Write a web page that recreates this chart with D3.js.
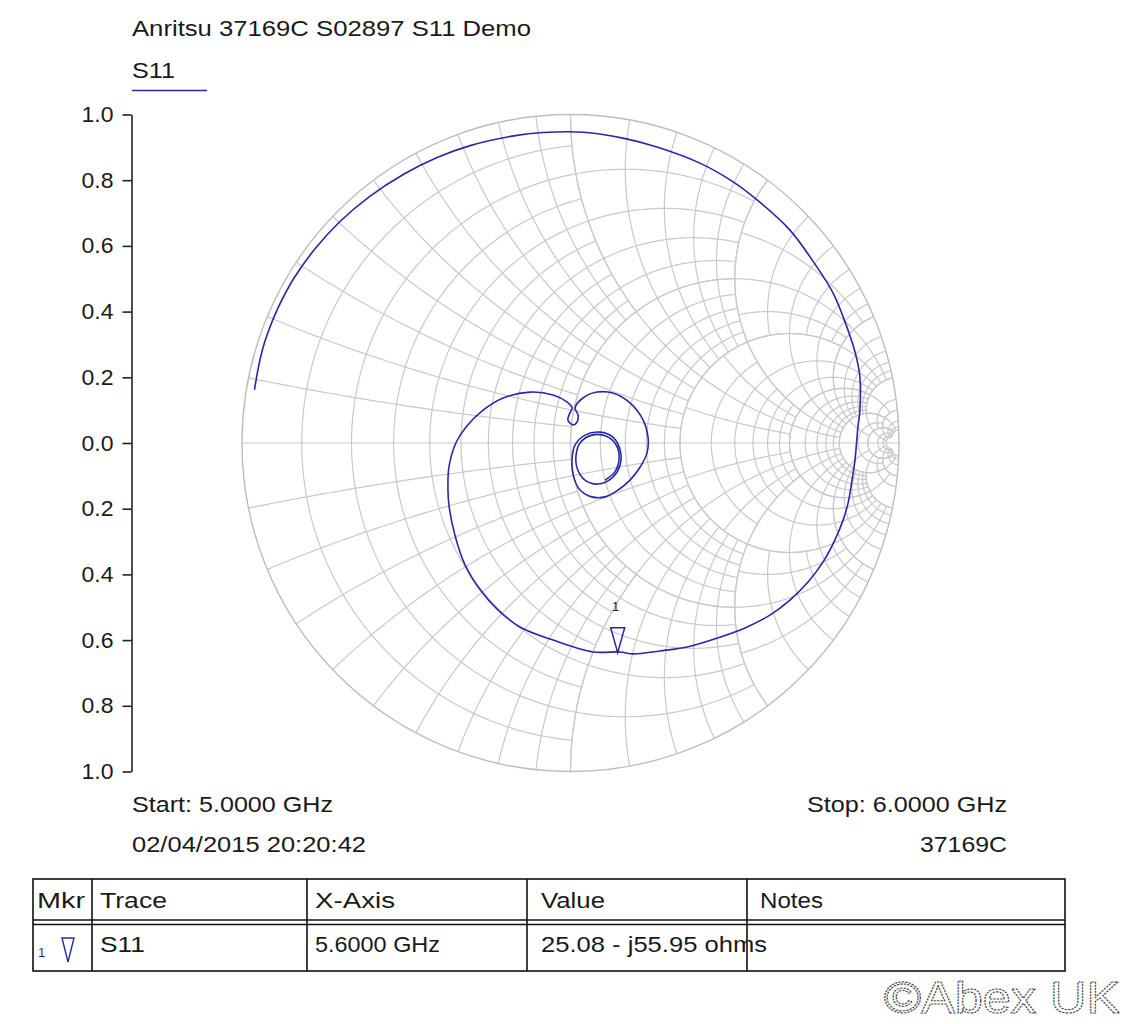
<!DOCTYPE html>
<html><head><meta charset="utf-8">
<script src="https://cdn.jsdelivr.net/npm/d3@7"></script>
<style>
body{margin:0;background:#fff}
svg{display:block}
text{font-family:"Liberation Sans",Arial,sans-serif;fill:#1a1a1a}
</style>
</head><body>
<svg id="chart" width="1129" height="1024"></svg>
<script>
// ---------------- data ----------------
const titleText = "Anritsu 37169C S02897 S11 Demo";
const seriesName = "S11";
const yTickValues = [1.0, 0.8, 0.6, 0.4, 0.2, 0.0, -0.2, -0.4, -0.6, -0.8, -1.0];
const startLabel = "Start: 5.0000 GHz";
const stopLabel = "Stop: 6.0000 GHz";
const dateLabel = "02/04/2015 20:20:42";
const modelLabel = "37169C";
const z0 = 50;
const markerLabel = "1";
const markerImpedance = [25.08, -55.95];   // ohms
const tableHeaders = ["Mkr", "Trace", "X-Axis", "Value", "Notes"];
const tableRow = ["", "S11", "5.6000 GHz", "25.08 - j55.95 ohms", ""];
const watermark = "\u00A9Abex UK";

// reflection coefficient (5.0 GHz -> 6.0 GHz)
const gammaRe = [-0.962,-0.950,-0.938,-0.922,-0.890,-0.841,-0.777,-0.704,-0.612,-0.508,-0.406,-0.303,-0.173,-0.083,0.038,0.160,0.263,0.394,0.495,0.568,0.668,0.750,0.799,0.830,0.860,0.872,0.881,0.881,0.875,0.866,0.857,0.845,0.830,0.805,0.769,0.723,0.668,0.607,0.531,0.455,0.355,0.272,0.190,0.151,0.068,-0.053,-0.154,-0.221,-0.275,-0.321,-0.352,-0.370,-0.373,-0.370,-0.349,-0.318,-0.266,-0.205,-0.123,-0.053,-0.011,0.005,-0.002,-0.008,0.008,0.020,0.023,0.014,0.038,0.081,0.129,0.181,0.221,0.236,0.233,0.212,0.181,0.145,0.105,0.065,0.029,0.008,0.005,0.014,0.044,0.090,0.129,0.151,0.151,0.126,0.084,0.044,0.020,0.017,0.029,0.065,0.108,0.139,0.148,0.135,0.105];
const gammaIm = [0.162,0.231,0.283,0.334,0.412,0.503,0.592,0.672,0.750,0.818,0.869,0.906,0.935,0.945,0.946,0.928,0.901,0.852,0.795,0.740,0.648,0.536,0.457,0.384,0.298,0.253,0.201,0.100,0.049,-0.052,-0.113,-0.183,-0.234,-0.295,-0.362,-0.423,-0.478,-0.524,-0.563,-0.591,-0.621,-0.633,-0.642,-0.636,-0.636,-0.600,-0.560,-0.508,-0.447,-0.371,-0.280,-0.189,-0.143,-0.073,0.000,0.049,0.100,0.137,0.155,0.146,0.125,0.107,0.091,0.070,0.055,0.064,0.085,0.107,0.137,0.155,0.152,0.122,0.070,0.018,-0.030,-0.073,-0.113,-0.143,-0.164,-0.164,-0.143,-0.097,-0.046,-0.006,0.024,0.033,0.018,-0.021,-0.067,-0.107,-0.125,-0.113,-0.076,-0.037,0.000,0.024,0.021,-0.006,-0.046,-0.088,-0.113];

// Smith grid zones: [rFrom, rTo, rStep, xFrom, xTo, xStep]
const gridZones = [
  [0, 1, 0.1, 0, 1, 0.1],
  [0, 1, 0.2, 1, 2, 0.2],
  [1, 2, 0.2, 0, 2, 0.2],
  [0, 2, 0.5, 2, 5, 0.5],
  [2, 5, 0.5, 0, 2, 0.5],
  [2, 5, 1, 2, 5, 1],
  [0, 5, 1, 5, 10, 1],
  [5, 10, 1, 0, 10, 1],
  [0, 10, 5, 10, 20, 5],
  [10, 20, 5, 0, 20, 5],
  [0, 20, 10, 20, 50, 10],
  [20, 50, 10, 0, 50, 10]
];

// ---------------- drawing ----------------
const svg = d3.select("#chart");
const cx = 570.5, cy = 443, R = 328.5;
const xs = d3.scaleLinear().domain([-1, 1]).range([cx - R, cx + R]);
const ys = d3.scaleLinear().domain([-1, 1]).range([cy + R, cy - R]);
const line = d3.line().x(d => xs(d[0])).y(d => ys(d[1]));
const gridColor = "#c9c9c9";
const traceColor = "#2727a8";

function gam(r, x) {
  const d = (r + 1) * (r + 1) + x * x;
  return [(r * r + x * x - 1) / d, 2 * x / d];
}
function sampleAtan(a, b, n) {
  const t0 = Math.atan(a), t1 = Math.atan(b), out = [];
  for (let i = 0; i <= n; i++) out.push(Math.tan(t0 + (t1 - t0) * i / n));
  return out;
}
const grid = svg.append("g").attr("fill", "none").attr("stroke", gridColor).attr("stroke-width", 1.2);
function rArc(r, x0, x1) {
  [1, -1].forEach(s => {
    const pts = sampleAtan(x0, x1, 60).map(x => gam(r, s * x));
    grid.append("path").attr("d", line(pts));
  });
}
function xArc(x, r0, r1) {
  [1, -1].forEach(s => {
    const pts = sampleAtan(r0, r1, 60).map(r => gam(r, s * x));
    grid.append("path").attr("d", line(pts));
  });
}
const eps = 1e-6;
gridZones.forEach(([r0, r1, dr, x0, x1, dx]) => {
  for (let r = (r0 > 0 ? r0 : dr); r <= r1 + eps; r += dr) rArc(+r.toFixed(4), x0, x1);
  for (let x = (x0 > 0 ? x0 : dx); x <= x1 + eps; x += dx) xArc(+x.toFixed(4), r0, r1);
});
// real axis and outer circle
grid.append("line").attr("x1", xs(-1)).attr("x2", xs(1)).attr("y1", ys(0)).attr("y2", ys(0));
grid.append("circle").attr("cx", xs(0)).attr("cy", ys(0)).attr("r", xs(1) - xs(0)).attr("stroke", "#bdbdbd").attr("stroke-width", 1.4);

// trace
const trace = gammaRe.map((g, i) => [g, gammaIm[i]]);
svg.append("path").attr("d", d3.line().x(d => xs(d[0])).y(d => ys(d[1])).curve(d3.curveCatmullRom)(trace))
  .attr("fill", "none").attr("stroke", traceColor).attr("stroke-width", 1.6);

// marker
const zm = [markerImpedance[0] / z0, markerImpedance[1] / z0];
const gm = gam(zm[0], zm[1]);
const mx = xs(gm[0]), my = ys(gm[1]);
svg.append("path").attr("d", `M${mx},${my} L${mx - 7},${my - 25} L${mx + 7},${my - 25} Z`)
  .attr("fill", "none").attr("stroke", traceColor).attr("stroke-width", 1.5);
svg.append("text").attr("x", mx - 2).attr("y", my - 42).attr("text-anchor", "middle")
  .attr("font-size", 13).text(markerLabel);

// y axis
const yAxis = d3.axisLeft(ys).tickValues(yTickValues).tickFormat(d => Math.abs(d).toFixed(1))
  .tickSize(9).tickSizeOuter(0).tickPadding(9);
const ag = svg.append("g").attr("transform", "translate(131.5,0)").call(yAxis);
ag.select(".domain").attr("stroke", "#222").attr("stroke-width", 1.6);
ag.selectAll(".tick line").attr("stroke", "#222").attr("stroke-width", 1.6);
ag.selectAll(".tick text").attr("font-size", 22).attr("font-family", '"Liberation Sans",Arial,sans-serif')
  .attr("fill", "#1a1a1a").attr("textLength", 32).attr("lengthAdjust", "spacingAndGlyphs");

// titles
function txt(s, x, y, w, anchor) {
  const t = svg.append("text").attr("x", x).attr("y", y).attr("font-size", 22).text(s);
  if (anchor) t.attr("text-anchor", anchor);
  if (w) t.attr("textLength", w).attr("lengthAdjust", "spacingAndGlyphs");
  return t;
}
txt(titleText, 132, 36, 399);
txt(seriesName, 132, 78, 43);
svg.append("line").attr("x1", 132).attr("x2", 207).attr("y1", 90.5).attr("y2", 90.5)
  .attr("stroke", traceColor).attr("stroke-width", 1.6);
txt(startLabel, 132, 812, 201);
txt(dateLabel, 132, 852, 234);
txt(stopLabel, 1007, 812, 200, "end");
txt(modelLabel, 1007, 852, 87, "end");

// table
const colX = [33, 92, 307, 527, 747, 1065];
const tb = svg.append("g").attr("stroke", "#111").attr("stroke-width", 1.6).attr("fill", "none");
tb.append("rect").attr("x", colX[0]).attr("y", 879).attr("width", colX[5] - colX[0]).attr("height", 92);
tb.append("line").attr("x1", colX[0]).attr("x2", colX[5]).attr("y1", 920).attr("y2", 920);
tb.append("line").attr("x1", colX[0]).attr("x2", colX[5]).attr("y1", 924.5).attr("y2", 924.5);
colX.slice(1, 5).forEach(x => tb.append("line").attr("x1", x).attr("x2", x).attr("y1", 879).attr("y2", 971));
const headW = [48, 67, 80, 64, 63];
const headOff = [4, 8, 8, 14, 13];
tableHeaders.forEach((h, i) => txt(h, colX[i] + headOff[i], 908, headW[i]));
const rowW = [0, 45, 125, 226, 0];
tableRow.forEach((h, i) => { if (h) txt(h, colX[i] + 8 + (i === 3 ? 6 : 0), 952, rowW[i]); });
// marker symbol in table
svg.append("text").attr("x", 38).attr("y", 957).attr("font-size", 13).style("fill", traceColor).text(markerLabel);
svg.append("path").attr("d", "M62,938 L74,938 L68,962 Z").attr("fill", "none").attr("stroke", traceColor).attr("stroke-width", 1.4);

// watermark
svg.append("text").attr("x", 884).attr("y", 1013).attr("font-size", 44)
  .attr("textLength", 236).attr("lengthAdjust", "spacingAndGlyphs")
  .style("fill", "#fff").attr("stroke", "#444").attr("stroke-width", 1.1).attr("stroke-dasharray", "2,1")
  .text(watermark);
</script>
</body></html>
